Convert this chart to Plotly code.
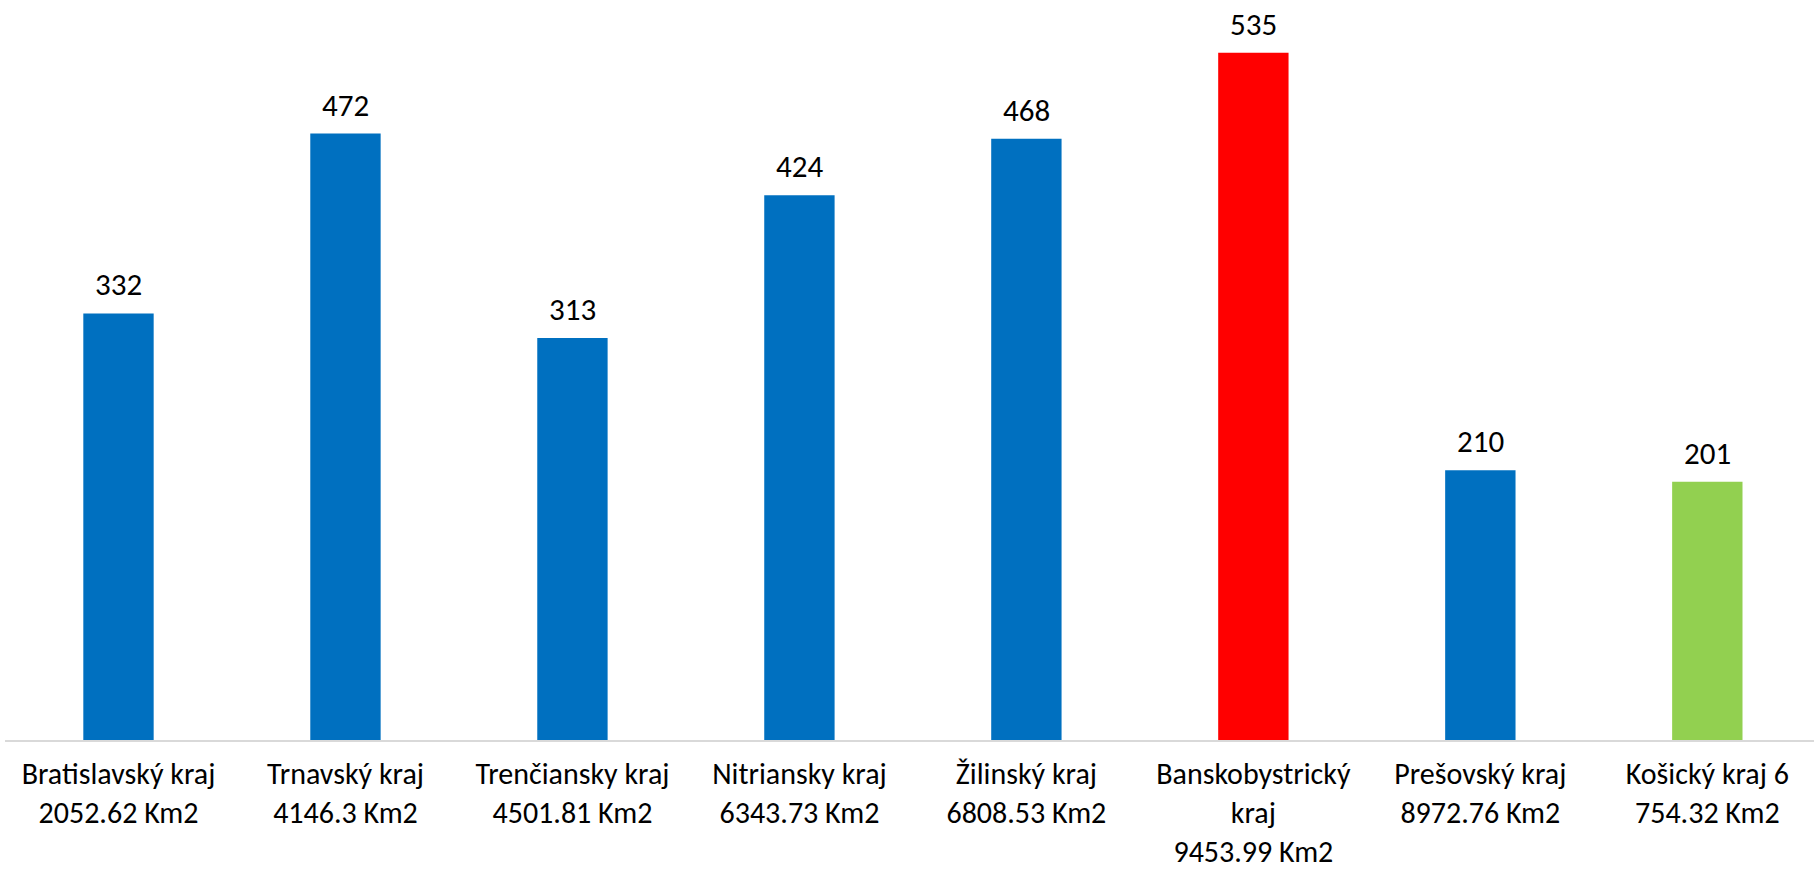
import plotly.graph_objects as go

categories = [
    "Bratislavský kraj<br>2052.62 Km2",
    "Trnavský kraj<br>4146.3 Km2",
    "Trenčiansky kraj<br>4501.81 Km2",
    "Nitriansky kraj<br>6343.73 Km2",
    "Žilinský kraj<br>6808.53 Km2",
    "Banskobystrický<br>kraj<br>9453.99 Km2",
    "Prešovský kraj<br>8972.76 Km2",
    "Košický kraj 6<br>754.32 Km2",
]
values = [332, 472, 313, 424, 468, 535, 210, 201]
bar_colors = ["#0070C0", "#0070C0", "#0070C0", "#0070C0", "#0070C0", "#FF0000", "#0070C0", "#92D050"]

FONT = "Carlito, Lato"

fig = go.Figure()
fig.add_trace(go.Bar(
    x=list(range(len(categories))),
    y=values,
    marker=dict(color=bar_colors, line=dict(width=0)),
    width=0.31,
    hoverinfo="skip",
))

for i, v in enumerate(values):
    fig.add_annotation(
        x=i, y=v, text=str(v), showarrow=False,
        yanchor="bottom", yshift=8,
        font=dict(family=FONT, size=31, color="#000000"),
    )

fig.update_layout(
    width=1814, height=871,
    margin=dict(l=5, r=0, t=0, b=131),
    paper_bgcolor="white", plot_bgcolor="white",
    showlegend=False,
    font=dict(family=FONT, size=30, color="#000000"),
)
fig.update_xaxes(
    tickmode="array",
    tickvals=list(range(len(categories))),
    ticktext=categories,
    range=[-0.5, 7.47],
    automargin=False,
    showgrid=False, zeroline=False,
    showline=True, linecolor="#d9d9d9", linewidth=2,
    ticks="", ticklabelstandoff=6,
    tickfont=dict(family=FONT, size=30, color="#000000"),
)
fig.update_yaxes(
    range=[0, 576],
    automargin=False,
    showgrid=False, zeroline=False, showline=False,
    showticklabels=False, ticks="",
)

fig.write_html(
    "out.html",
    config={"displayModeBar": False},
    post_script="document.body.style.margin='0px';",
)
